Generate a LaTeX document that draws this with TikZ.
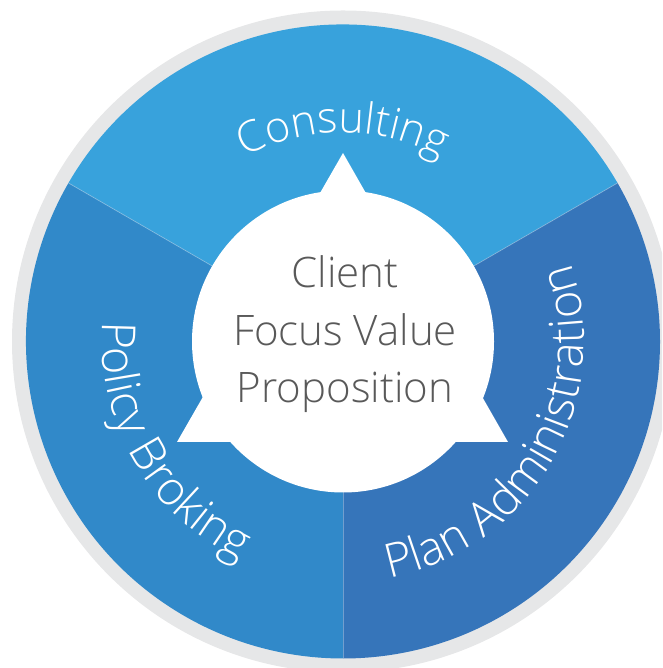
\documentclass[tikz,border=0pt]{standalone}
\usepackage{fontspec}
\IfFontExistsTF{Open Sans Light}{\setmainfont{Open Sans Light}}{\setmainfont{Open Sans}}
\usetikzlibrary{decorations.text,calc}
\definecolor{topblue}{HTML}{38A2DC}
\definecolor{leftblue}{HTML}{3189C9}
\definecolor{rightblue}{HTML}{3675BA}
\definecolor{ringgray}{HTML}{E6E7E8}
\definecolor{textgray}{HTML}{595959}
\newcommand\lblfont{\fontsize{47}{56}\selectfont\color{white}}
\newcommand\toplblfont{\fontsize{43}{52}\selectfont\color{white}}
\tikzset{
  centertext/.style={anchor=base, text=textgray, font=\fontsize{42}{50}\selectfont, inner sep=0pt},
  sectorlabel/.style={decorate, decoration={text along path, text align=center, text={|\lblfont|#1}}},
  toplabel/.style={decorate, decoration={text along path, text align=center, text={|\toplblfont|#1}}},
  divider/.style={white, opacity=0.3, line width=0.8pt}
}
\begin{document}
\begin{tikzpicture}[x=1pt,y=1pt]
\useasboundingbox (0,0) rectangle (662,668);
\clip (0,0) rectangle (662,668);
\coordinate (c) at (343,326.5);
% outer ring
\fill[ringgray] (c) circle[radius=331pt];
% sectors
\fill[topblue] (c) -- ++(30:317pt) arc[start angle=30,end angle=150,radius=317pt] -- cycle;
\fill[leftblue] (c) -- ++(150:317pt) arc[start angle=150,end angle=270,radius=317pt] -- cycle;
\fill[rightblue] (c) -- ++(270:317pt) arc[start angle=270,end angle=390,radius=317pt] -- cycle;
\foreach \a in {30,150,270} \draw[divider] (c) -- ++(\a:317pt);
% inner shape
\coordinate (t1) at (343,515);
\coordinate (t2) at (177,226);
\coordinate (t3) at (508,226);
\fill[white] (c) circle[radius=151pt];
\fill[white] (t1) -- (t2) -- (t3) -- cycle;
% center text
\node[centertext] (l1) at (345,380) {Client};
\node[centertext] (l2) at (345,322.5) {Focus Value};
\node[centertext] (l3) at (345,265) {Proposition};
% sector labels
\path[toplabel=Consulting] ($(c)+(150:209pt)$) arc[start angle=150,end angle=30,radius=209pt];
\path[sectorlabel=Policy Broking] ($(c)+(150:241pt)$) arc[start angle=150,end angle=270,radius=241pt];
\path[sectorlabel=Plan Administration] ($(c)+(270:241pt)$) arc[start angle=270,end angle=390,radius=241pt];
\end{tikzpicture}
\end{document}
